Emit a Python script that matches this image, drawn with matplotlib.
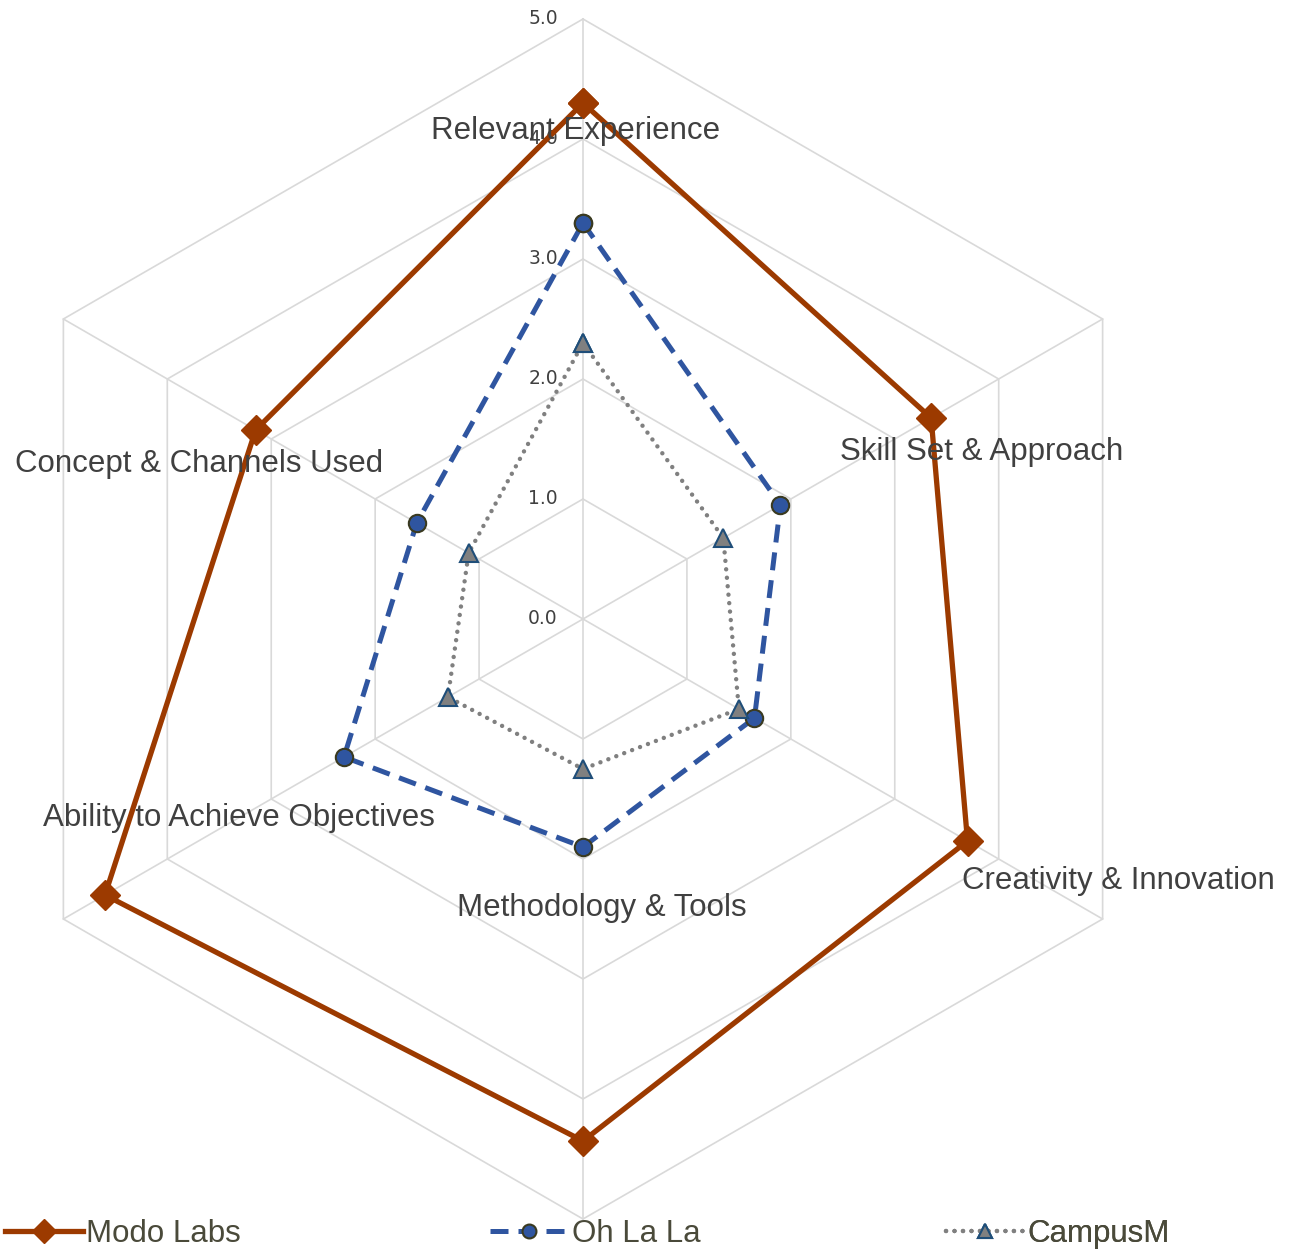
import matplotlib.pyplot as plt
import numpy as np

categories = ['Relevant Experience', 'Skill Set & Approach', 'Creativity & Innovation',
              'Methodology & Tools', 'Ability to Achieve Objectives', 'Concept & Channels Used']
modo_labs = [4.3, 3.35, 3.7, 4.35, 4.6, 3.15]
oh_la_la = [3.3, 1.9, 1.65, 1.9, 2.3, 1.6]
campusm = [2.3, 1.35, 1.5, 1.25, 1.3, 1.1]
ticks = [0, 1, 2, 3, 4, 5]

# label centres in data units (excel-style placement)
label_xy = [(-0.06, 4.07), (3.32, 1.39), (4.46, -2.18),
            (0.16, -2.41), (-2.87, -1.66), (-3.2, 1.29)]


def xy(vals):
    ang = np.arange(len(vals)) * 2 * np.pi / len(vals)
    v = np.asarray(vals, dtype=float)
    return v * np.sin(ang), v * np.cos(ang)


def main():
    plt.rcParams['font.family'] = ['Liberation Sans', 'DejaVu Sans']
    fig = plt.figure(figsize=(12.94, 12.51), dpi=100)
    ax = fig.add_axes([0, 0, 1, 1])
    ax.set_xlim(-583 / 120, (1294 - 583) / 120)
    ax.set_ylim(-(1251 - 619) / 120, 619 / 120)
    ax.axis('off')

    n = len(categories)
    grid_c = '#d9d9d9'
    for t in ticks[1:]:
        x, y = xy([t] * n)
        ax.plot(np.append(x, x[0]), np.append(y, y[0]), color=grid_c, lw=1.2, zorder=1)
    x5, y5 = xy([5] * n)
    for i in range(n):
        ax.plot([0, x5[i]], [0, y5[i]], color=grid_c, lw=1.2, zorder=1)

    for t in ticks:
        ax.text(-0.21, t, f'{t:.1f}', ha='right', va='center', fontsize=13.5,
                color='#404040', family='DejaVu Sans', zorder=2)

    def series(vals, **kw):
        x, y = xy(vals)
        return ax.plot(np.append(x, x[0]), np.append(y, y[0]), **kw)

    series(modo_labs, color='#9c3a00', lw=3.8, marker='D', ms=15, mfc='#9c3a00',
           mec='#9c3a00', label='Modo Labs', zorder=5)
    series(oh_la_la, color='#2f55a0', lw=3.6, ls=(0, (3.6, 2.0)), marker='o', ms=12.5,
           mfc='#2f55a0', mec='#3a3a20', mew=1.5, label='Oh La La', zorder=5)
    series(campusm, color='#808080', lw=3.2, ls=(0, (0.01, 1.9)), dash_capstyle='round',
           marker='^', ms=12.5, mfc='#808080', mec='#1f4e79', mew=1.5,
           label='CampusM', zorder=5)

    for (lx, ly), name in zip(label_xy, categories):
        ax.text(lx, ly, name, ha='center', va='center',
                fontsize=22.5, color='#404040', zorder=6)

    handles, labels = ax.get_legend_handles_labels()
    for k, (h, lab) in enumerate(zip(handles, labels)):
        lg = ax.legend([h], [lab], loc='center left',
                       bbox_to_anchor=([0.004, 0.379, 0.731][k], 0.0136),
                       frameon=False, fontsize=22.5, handlelength=2.5,
                       handletextpad=0.1, borderaxespad=0, borderpad=0,
                       markerscale=0.8)
        for txt in lg.get_texts():
            txt.set_color('#4a4a3a')
        ax.add_artist(lg)

    fig.savefig('out.png', dpi=100)


if __name__ == '__main__':
    main()
